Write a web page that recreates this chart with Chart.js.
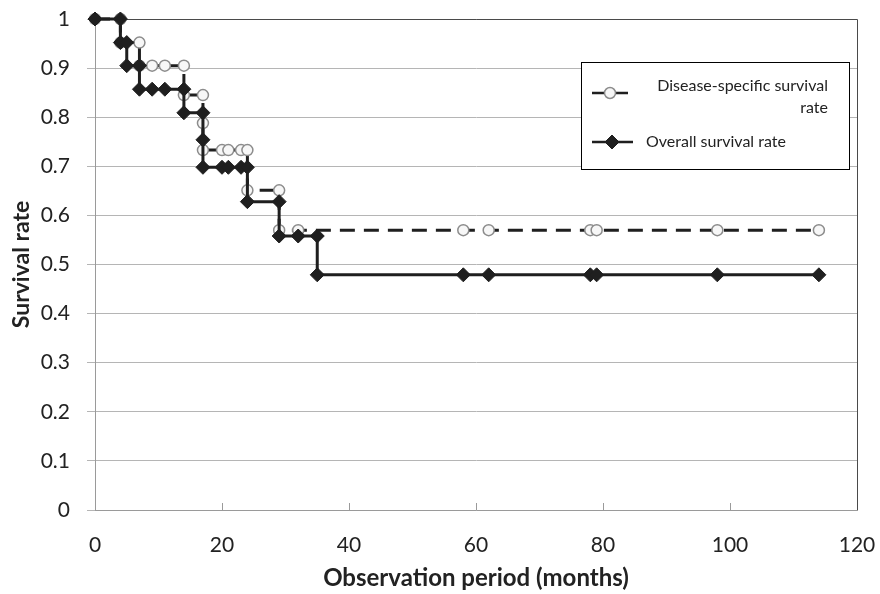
<!DOCTYPE html>
<html>
<head>
<title>Survival curves</title>
<script src="https://cdn.jsdelivr.net/npm/chart.js@4.4.0/dist/chart.umd.min.js"></script>
<style>
  body { margin: 0; background: #fff; }
  #chart-container { width: 880px; height: 594px; }
</style>
</head>
<body>
<div id="chart-container">
  <canvas id="mycanvas" width="880" height="594"></canvas>
</div>
<script>
// values (months, survival rate)
var seriesLabels = ['Disease-specific survival rate', 'Overall survival rate'];

var dssMonths = [0, 4, 4, 7, 7, 9, 11, 14, 14, 17, 17, 17, 20, 21, 23, 24, 24, 29, 29, 32, 58, 62, 78, 79, 98, 114];
var dssRate = [1, 1, 0.952, 0.952, 0.905, 0.905, 0.905, 0.905, 0.845, 0.845, 0.788, 0.733, 0.733, 0.733, 0.733, 0.733, 0.651, 0.651, 0.570, 0.570, 0.570, 0.570, 0.570, 0.570, 0.570, 0.570];

var osMonths = [0, 4, 4, 5, 5, 7, 7, 9, 11, 14, 14, 17, 17, 17, 20, 21, 23, 24, 24, 29, 29, 32, 35, 35, 58, 62, 78, 79, 98, 114];
var osRate = [1, 1, 0.952, 0.952, 0.905, 0.905, 0.857, 0.857, 0.857, 0.857, 0.809, 0.809, 0.754, 0.698, 0.698, 0.698, 0.698, 0.698, 0.628, 0.628, 0.558, 0.558, 0.558, 0.479, 0.479, 0.479, 0.479, 0.479, 0.479, 0.479];

var xTicks = [0, 20, 40, 60, 80, 100, 120];
var yTicks = [0, 0.1, 0.2, 0.3, 0.4, 0.5, 0.6, 0.7, 0.8, 0.9, 1];

function toPoints(xs, ys) {
  var pts = [];
  for (var i in xs) {
    pts.push({x: xs[i], y: ys[i]});
  }
  return pts;
}

var FONT = 'Lato';
var INK = '#1f1f1f';

// top/right frame of the plot area and inward x ticks
var plotFrame = {
  id: 'plotFrame',
  beforeDatasetsDraw: function(chart) {
    var ctx = chart.ctx, a = chart.chartArea, xs = chart.scales.x;
    ctx.save();
    ctx.strokeStyle = '#9a9a9a';
    ctx.lineWidth = 1;
    ctx.beginPath();
    xTicks.forEach(function(v) {
      var px = Math.round(xs.getPixelForValue(v)) + 0.5;
      ctx.moveTo(px, a.bottom);
      ctx.lineTo(px, a.bottom - 7);
    });
    ctx.stroke();
    ctx.strokeStyle = '#4a4a4a';
    ctx.beginPath();
    ctx.moveTo(a.left, a.top + 0.5);
    ctx.lineTo(a.right + 0.5, a.top + 0.5);
    ctx.lineTo(a.right + 0.5, a.bottom);
    ctx.stroke();
    ctx.restore();
  }
};

function drawMarker(ctx, ds, x, y) {
  ctx.save();
  ctx.fillStyle = ds.pointBackgroundColor;
  ctx.strokeStyle = ds.pointBorderColor;
  ctx.lineWidth = ds.pointBorderWidth;
  ctx.setLineDash([]);
  ctx.beginPath();
  var r = ds.pointRadius;
  if (ds.pointStyle === 'rectRot') {
    ctx.moveTo(x - r, y); ctx.lineTo(x, y - r); ctx.lineTo(x + r, y); ctx.lineTo(x, y + r);
    ctx.closePath();
  } else {
    ctx.arc(x, y, r, 0, Math.PI * 2);
  }
  ctx.fill();
  ctx.stroke();
  ctx.restore();
}

var legendBox = {
  id: 'legendBox',
  afterDraw: function(chart) {
    var ctx = chart.ctx;
    var ds = chart.data.datasets;
    ctx.save();
    ctx.fillStyle = '#fff';
    ctx.fillRect(581, 62, 268, 107);
    ctx.strokeStyle = '#000';
    ctx.lineWidth = 1;
    ctx.strokeRect(581.5, 62.5, 268, 107);

    // disease-specific
    ctx.strokeStyle = ds[0].borderColor;
    ctx.lineWidth = 2.5;
    ctx.beginPath();
    ctx.moveTo(592, 93); ctx.lineTo(604, 93);
    ctx.moveTo(616, 93); ctx.lineTo(628, 93);
    ctx.stroke();
    drawMarker(ctx, ds[0], 610, 93);

    // overall
    ctx.strokeStyle = ds[1].borderColor;
    ctx.lineWidth = 2.5;
    ctx.beginPath();
    ctx.moveTo(592, 142); ctx.lineTo(633, 142);
    ctx.stroke();
    drawMarker(ctx, ds[1], 612, 142);

    ctx.fillStyle = '#222';
    ctx.font = '16px ' + FONT;
    ctx.textBaseline = 'middle';
    var words = ds[0].label.split(' ');
    ctx.textAlign = 'right';
    ctx.fillText(words.slice(0, -1).join(' '), 828, 86);
    ctx.fillText(words[words.length - 1], 828, 108);
    ctx.textAlign = 'left';
    ctx.fillText(ds[1].label, 646, 142);
    ctx.restore();
  }
};

var chartdata = {
  datasets: [
    {
      label: seriesLabels[0],
      data: toPoints(dssMonths, dssRate),
      showLine: true,
      borderColor: INK,
      borderWidth: 3,
      borderDash: [15, 9],
      pointStyle: 'circle',
      pointRadius: 5.5,
      pointBorderWidth: 1.5,
      pointBorderColor: '#8c8c8c',
      pointBackgroundColor: '#f7f7f7',
      order: 1,
      clip: false
    },
    {
      label: seriesLabels[1],
      data: toPoints(osMonths, osRate),
      showLine: true,
      borderColor: INK,
      borderWidth: 3,
      pointStyle: 'rectRot',
      pointRadius: 7,
      pointBorderWidth: 1,
      pointBorderColor: INK,
      pointBackgroundColor: INK,
      order: 0,
      clip: false
    }
  ]
};

var ctx = document.getElementById('mycanvas');

var survivalChart = new Chart(ctx, {
  type: 'scatter',
  data: chartdata,
  plugins: [plotFrame, legendBox],
  options: {
    responsive: false,
    animation: false,
    layout: { autoPadding: false, padding: { top: 19, right: 23, left: 0, bottom: 0 } },
    plugins: {
      legend: { display: false },
      tooltip: { enabled: false }
    },
    scales: {
      x: {
        type: 'linear',
        min: 0,
        max: 120,
        afterBuildTicks: function(s) { s.ticks = xTicks.map(function(v) { return {value: v}; }); },
        afterFit: function(s) { s.height = 84; s.paddingLeft = 0; s.paddingRight = 0; },
        grid: { display: false },
        border: { display: true, color: '#9a9a9a', width: 1 },
        ticks: { color: '#222', padding: 15, maxRotation: 0, font: { family: FONT, size: 21 } },
        title: {
          display: true,
          text: 'Observation period (months)',
          color: '#222',
          font: { family: FONT, size: 24, weight: 'bold' },
          padding: { top: 0, bottom: 1 }
        }
      },
      y: {
        type: 'linear',
        min: 0,
        max: 1,
        afterBuildTicks: function(s) { s.ticks = yTicks.map(function(v) { return {value: v}; }); },
        afterFit: function(s) { s.width = 95; s.paddingTop = 0; s.paddingBottom = 0; },
        grid: { color: '#b5b5b5', lineWidth: 1, tickLength: 8 },
        border: { display: true, color: '#9a9a9a', width: 1 },
        ticks: {
          color: '#222',
          padding: 17,
          font: { family: FONT, size: 21 },
          callback: function(v) { return String(Number(v.toFixed(1))); }
        },
        title: {
          display: true,
          text: 'Survival rate',
          color: '#222',
          font: { family: FONT, size: 23, weight: 'bold' },
          padding: { top: 8, bottom: 0 }
        }
      }
    }
  }
});
</script>
</body>
</html>
